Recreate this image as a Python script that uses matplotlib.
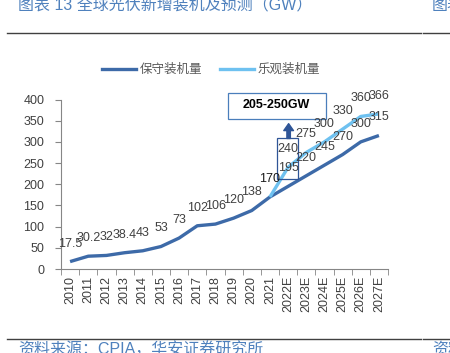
import matplotlib
matplotlib.use('Agg')
import matplotlib.pyplot as plt
from matplotlib.patches import Rectangle
from matplotlib.lines import Line2D

plt.rcParams['font.family'] = ['Liberation Sans', 'Noto Sans CJK SC', 'DejaVu Sans']

# 데이터
years = ['2010', '2011', '2012', '2013', '2014', '2015', '2016', '2017', '2018',
         '2019', '2020', '2021', '2022E', '2023E', '2024E', '2025E', '2026E', '2027E']
conservative = [17.5, 30.2, 32, 38.4, 43, 53, 73, 102, 106, 120, 138, 170,
                195, 220, 245, 270, 300, 315]
optimistic_years = ['2021', '2022E', '2023E', '2024E', '2025E', '2026E', '2027E']
optimistic = [170, 240, 275, 300, 330, 360, 366]
cons_labels = ['17.5', '30.2', '32', '38.4', '43', '53', '73', '102', '106', '120',
               '138', '170', '195', '220', '245', '270', '300', '315']
opt_labels = ['240', '275', '300', '330', '360', '366']

dark = '#3D6AA8'
light = '#6EC1F0'
gray = '#404040'
blue_txt = '#4F81BD'

fig = plt.figure(figsize=(4.5, 3.53), dpi=100)
ax = fig.add_axes([61 / 450, 84 / 353, 327 / 450, 169.5 / 353])

x = list(range(len(years)))
xo = [years.index(y) for y in optimistic_years]

ax.plot(x, conservative, color=dark, lw=2.4, solid_capstyle='butt', zorder=3)
ax.plot(xo, optimistic, color=light, lw=2.4, solid_capstyle='butt', zorder=3)

# 데이터 레이블
for i, (v, t) in enumerate(zip(conservative, cons_labels)):
    c = '#1a1a1a' if years[i] == '2021' else gray
    ax.annotate(t, (i, v), xytext=(0, 13), textcoords='offset points',
                ha='center', va='center', fontsize=9, color=c, zorder=5)
for i, v, t in zip(xo[1:], optimistic[1:], opt_labels):
    ax.annotate(t, (i, v), xytext=(0, 13), textcoords='offset points',
                ha='center', va='center', fontsize=9, color=gray, zorder=5)

# 2022E 박스와 화살표
ax.add_patch(Rectangle((11.37, 212), 1.16, 96, fill=False, edgecolor='#2F5597',
                       lw=0.9, zorder=4))
ax.annotate('', xy=(12.03, 343), xytext=(12.03, 308),
            arrowprops=dict(width=2.5, headwidth=7, headlength=5,
                            color='#2F5597', shrink=0), zorder=4)
ax.add_patch(Rectangle((8.68, 355), 5.39, 61, facecolor='white', edgecolor='#4A7EBB',
                       lw=0.9, clip_on=False, zorder=4))
ax.text(11.37, 386, '205-250GW', ha='center', va='center', fontsize=9,
        fontweight='bold', color='black', zorder=5, clip_on=False)

ax.set_xlim(-0.5, len(years) - 0.5)
ax.set_ylim(0, 400)
ax.set_yticks(range(0, 401, 50))
ax.set_xticks(x)
ax.set_xticklabels(years, rotation=90)
ax.set_xticks([i - 0.5 for i in range(len(years) + 1)], minor=True)
ax.tick_params(axis='x', which='major', length=0, pad=5, labelsize=9, labelcolor=gray)
ax.tick_params(axis='x', which='minor', length=4, color='#868686', direction='out')
ax.tick_params(axis='y', length=4, pad=8, labelsize=9, labelcolor=gray, color='#868686')
for s in ['top', 'right']:
    ax.spines[s].set_visible(False)
for s in ['left', 'bottom']:
    ax.spines[s].set_color('#868686')
    ax.spines[s].set_linewidth(0.8)

# 범례
handles = [Line2D([], [], color=dark, lw=2.4), Line2D([], [], color=light, lw=2.4)]
fig.legend(handles, ['保守装机量', '乐观装机量'], loc='center', bbox_to_anchor=(211 / 450, 1 - 70 / 353),
           ncol=2, frameon=False, fontsize=9, handlelength=2.7, handletextpad=0.3,
           columnspacing=1.4, labelcolor='#595959')

# 제목, 구분선, 출처
fig.text(18 / 450, 1 - 10 / 353, '图表 13 全球光伏新增装机及预测（GW）', fontsize=11.5,
         color=blue_txt, ha='left', va='baseline')
fig.text(432 / 450, 1 - 10 / 353, '图表', fontsize=11.5, color=blue_txt, ha='left', va='baseline')
for yy in [1 - 33 / 353, 1 - 339 / 353]:
    fig.add_artist(Line2D([7 / 450, 421 / 450], [yy, yy], color='#404040', lw=1))
    fig.add_artist(Line2D([423 / 450, 1], [yy, yy], color='#404040', lw=1))
fig.text(18 / 450, 1 - 342 / 353, '资料来源：CPIA，华安证券研究所', fontsize=11.5,
         color=blue_txt, ha='left', va='top')
fig.text(432 / 450, 1 - 342 / 353, '资料', fontsize=11.5, color=blue_txt, ha='left', va='top')

fig.savefig('out.png', dpi=100)
